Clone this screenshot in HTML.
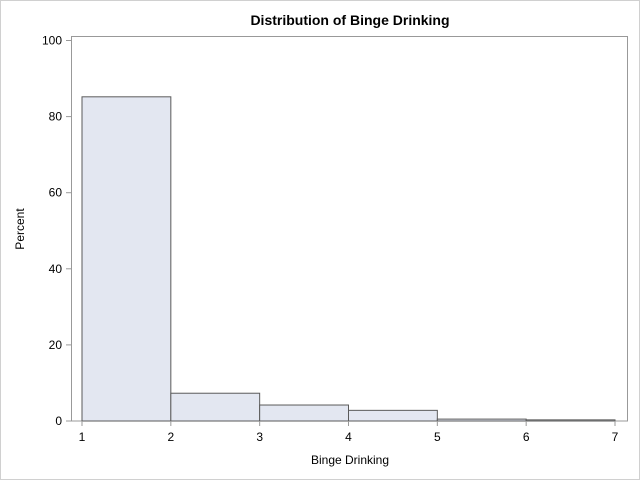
<!DOCTYPE html>
<html><head><meta charset="utf-8"><style>body{margin:0;background:#fff}svg{display:block;font-family:"Liberation Sans",Arial,sans-serif}</style></head>
<body>
<svg id="chart" width="640" height="480">
<rect x="0.5" y="0.5" width="639" height="479" fill="#fff" stroke="#d0d0d0"/>
<text x="350" y="25" text-anchor="middle" font-size="14" font-weight="bold">Distribution of Binge Drinking</text>
<rect x="71.5" y="36.5" width="556" height="384.5" fill="none" stroke="#999"/>
<g id="bars"></g><g id="xticks"></g><g id="yticks"></g>
<text x="350" y="464" text-anchor="middle" font-size="12">Binge Drinking</text>
<text x="24" y="229" text-anchor="middle" font-size="12" transform="rotate(-90 24 229)">Percent</text>
</svg>
<script>
const binStarts=[1,2,3,4,5,6];
const percents=[85.2,7.3,4.2,2.8,0.5,0.3];
const xTicks=[1,2,3,4,5,6,7];
const yTicks=[0,20,40,60,80,100];
const NS="http://www.w3.org/2000/svg";
const xs=v=>82+(v-1)*(615-82)/6;
const ys=v=>421-v*(421-40.5)/100;
function mk(t,a,p){const e=document.createElementNS(NS,t);for(const k in a)e.setAttribute(k,a[k]);p.appendChild(e);return e;}
const bars=document.getElementById('bars');
binStarts.forEach((b,i)=>{const r=mk('rect',{x:xs(b),y:ys(percents[i]),width:xs(b+1)-xs(b),height:ys(0)-ys(percents[i]),fill:'#e3e7f1',stroke:'#5a5a5a','stroke-width':1},bars);

});
const xt=document.getElementById('xticks');
xTicks.forEach(v=>{const l=mk('line',{x1:xs(v),x2:xs(v),y1:421,y2:426,stroke:'#999'},xt);


const t=mk('text',{x:xs(v),y:441,'text-anchor':'middle','font-size':12},xt);t.textContent=v;

});
const yt=document.getElementById('yticks');
yTicks.forEach(v=>{const l=mk('line',{x1:66,x2:71,y1:ys(v),y2:ys(v),stroke:'#999'},yt);


const t=mk('text',{x:62,y:ys(v)+4,'text-anchor':'end','font-size':12},yt);t.textContent=v;

});
</script>
</body></html>
